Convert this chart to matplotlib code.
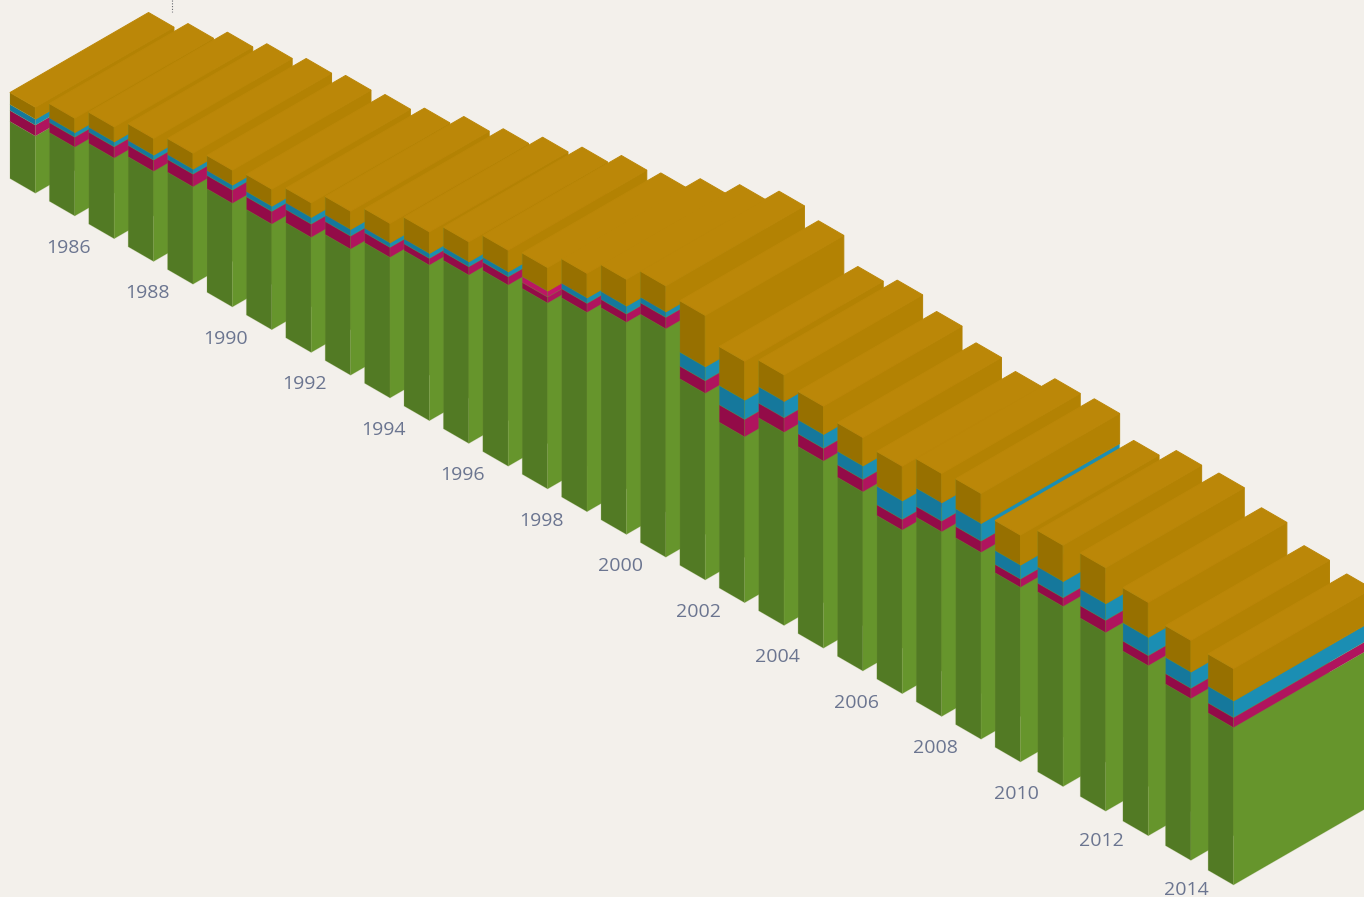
import numpy as np
import matplotlib
matplotlib.use('Agg')
import matplotlib.pyplot as plt
from matplotlib.patches import Polygon

years = np.arange(1986, 2017)
tick_years = np.arange(1986, 2015, 2)

green = [57, 68.7, 80.5, 90, 97.3, 103.5, 105.5, 115, 126, 140.5, 155.5, 168.3, 181, 185.8, 199.2, 212,
         228.3, 186.5, 165.8, 193, 187, 179, 163.5, 184.6, 186.7, 174.5, 180, 178.4, 170, 161.6, 157.3]
crimson = [11, 10, 11.3, 11.3, 12.7, 13.3, 12.7, 13.3, 13, 10, 6.7, 8.3, 8.3, 6, 9, 8.3,
           11.4, 12.6, 17.4, 14.6, 12.7, 12.4, 10.7, 10.7, 11.3, 8.3, 8.7, 12.3, 10, 10.4, 10]
blue = [6, 4.6, 5, 5, 5, 5, 5.3, 6.7, 6.7, 4.6, 5, 5, 5, 6, 5.6, 8,
        5.6, 14, 19.3, 16.4, 14, 13.6, 18.6, 18.3, 17.7, 14, 16.3, 16.7, 18.3, 16.3, 16.7]
gold = [12, 14.4, 15, 16.7, 16, 15, 17, 14.6, 18.3, 19.4, 21.6, 20, 21.7, 23.5, 24.5, 26.8,
        26, 51.4, 39, 26.6, 28.3, 28.4, 34.7, 29.4, 30, 30, 36.3, 36, 35, 31.7, 32.3]

# left face, right face
layer_colors = [('#527a24', '#66952c'), ('#930b48', '#b0145e'), ('#15789c', '#1b8eb3'), ('#977000', '#b38203')]
pink_band = ('#bb1763', '#c5166b')  # 1999 has its third layer in pink
top_color = '#bb8708'
edge_color = (0.45, 0.58, 0.22, 0.22)
bg_color = '#f3f0eb'
text_color = '#6b7590'

COS30, SIN30 = np.cos(np.radians(30)), 0.5
BAR_WIDTH = 29.3
BAR_DEPTH = 160.0
X0, Y0 = 10.0, 178.5
STEP = 45.5
WIDE_STEP = 49.2  # slots get wider after 2011


def slot_positions():
    steps = [STEP if y <= 2011 else WIDE_STEP for y in years[1:]]
    return np.concatenate([[0], np.cumsum(steps)])


def project(a, d, z):
    # a runs along the years, d runs into the page, z is up
    return (X0 + COS30 * (a + d), Y0 + SIN30 * (a - d) - z)


def draw_face(ax, points, color, edge=edge_color):
    ax.add_patch(Polygon(points, closed=True, facecolor=color, edgecolor=edge, linewidth=0.7))


def draw_bar(ax, a, heights, colors):
    z = 0
    for h, (left, right) in zip(heights, colors):
        draw_face(ax, [project(a, 0, z), project(a + BAR_WIDTH, 0, z),
                       project(a + BAR_WIDTH, 0, z + h), project(a, 0, z + h)], left)
        draw_face(ax, [project(a + BAR_WIDTH, 0, z), project(a + BAR_WIDTH, BAR_DEPTH, z),
                       project(a + BAR_WIDTH, BAR_DEPTH, z + h), project(a + BAR_WIDTH, 0, z + h)], right,
                  edge=right if h == heights[-1] else edge_color)
        z += h
    # the lid has no stroke so neighbouring lids of equal level read as one surface
    draw_face(ax, [project(a, 0, z), project(a + BAR_WIDTH, 0, z),
                   project(a + BAR_WIDTH, BAR_DEPTH, z), project(a, BAR_DEPTH, z)], top_color, edge=top_color)


fig = plt.figure(figsize=(13.64, 8.97), dpi=100, facecolor=bg_color)
ax = fig.add_axes([0, 0, 1, 1])
ax.set_xlim(0, 1364)
ax.set_ylim(897, 0)
ax.axis('off')

slots = slot_positions()

for i, year in enumerate(years):
    colors = list(layer_colors)
    if year == 1999:
        colors[2] = pink_band
    draw_bar(ax, slots[i], (green[i], crimson[i], blue[i], gold[i]), colors)

for year in tick_years:
    a = slots[year - years[0]]
    fx, fy = project(a + BAR_WIDTH, 0, 0)
    shift = 33 + np.clip(1.3 * (year - 2008), 0, 5.5)
    ax.text(fx + shift, fy + 54.5, str(year), ha='center', va='center', fontsize=14,
            family='Open Sans', color=text_color)

# short leader above the first bar
lx, ly = project(BAR_WIDTH, BAR_DEPTH, green[0] + crimson[0] + blue[0] + gold[0])
ax.plot([lx - 1.5, lx - 1.5], [0, ly - 15], color='#66686e', lw=0.8, ls=(0, (1, 1.5)))

fig.savefig('out.png', dpi=100, facecolor=bg_color)
